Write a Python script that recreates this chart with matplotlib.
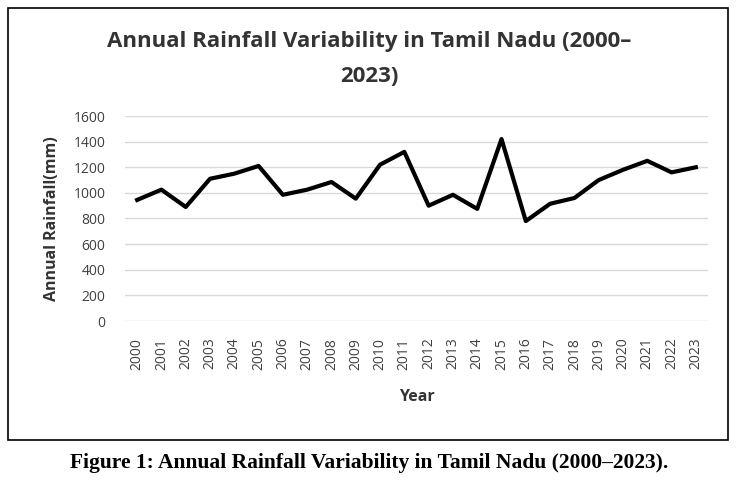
import matplotlib
matplotlib.use("Agg")
import matplotlib.pyplot as plt
from matplotlib.patches import Rectangle

years = [str(y) for y in range(2000, 2024)]
rainfall = [945, 1025, 890, 1110, 1150, 1210, 985, 1025, 1085, 955, 1220, 1320,
            900, 985, 875, 1420, 780, 915, 960, 1100, 1180, 1250, 1160, 1200]
yticks = [0, 200, 400, 600, 800, 1000, 1200, 1400, 1600]

W, H = 738, 486
fig = plt.figure(figsize=(W/100, H/100), dpi=100)
fig.patches.append(Rectangle((8/W, 1-440/H), 720/W, 432/H, transform=fig.transFigure,
                             fill=False, edgecolor='black', linewidth=1.2))
ax = fig.add_axes([125/W, 1-321/H, 583/W, 205/H])
x = range(len(years))
ax.plot(x, rainfall, color='black', linewidth=3)
ax.set_xlim(-0.5, len(years)-0.5)
ax.set_ylim(0, 1600)
ax.set_yticks(yticks)
ax.set_xticks(list(x))
ax.set_xticklabels(years, rotation=90, fontsize=10, color='#404040', family='Open Sans')
ax.tick_params(axis='y', labelsize=10, labelcolor='#404040', length=0, pad=14)
ax.tick_params(axis='x', length=0, pad=12)
for l in ax.get_yticklabels():
    l.set_family('Open Sans')
ax.grid(axis='y', color='#d9d9d9', linewidth=1)
ax.set_axisbelow(True)
for s in ax.spines.values():
    s.set_visible(False)
ax.set_ylabel('Annual Rainfall(mm)', fontsize=11.5, fontweight='bold', color='#333333',
              family='Open Sans', labelpad=10)
ax.set_xlabel('Year', fontsize=11.5, fontweight='bold', color='#333333', family='Open Sans', labelpad=14)
fig.text(0.5, 1-42/H, 'Annual Rainfall Variability in Tamil Nadu (2000–', ha='center', va='center',
         fontsize=16, fontweight='bold', color='#333333', family='Open Sans')
fig.text(0.5, 1-76/H, '2023)', ha='center', va='center',
         fontsize=16, fontweight='bold', color='#333333', family='Open Sans')
fig.text(0.5, 1-463/H, 'Figure 1: Annual Rainfall Variability in Tamil Nadu (2000–2023).', ha='center',
         va='center', fontsize=15.5, fontweight='bold', family='Liberation Serif')
fig.savefig('out.png', dpi=100)
